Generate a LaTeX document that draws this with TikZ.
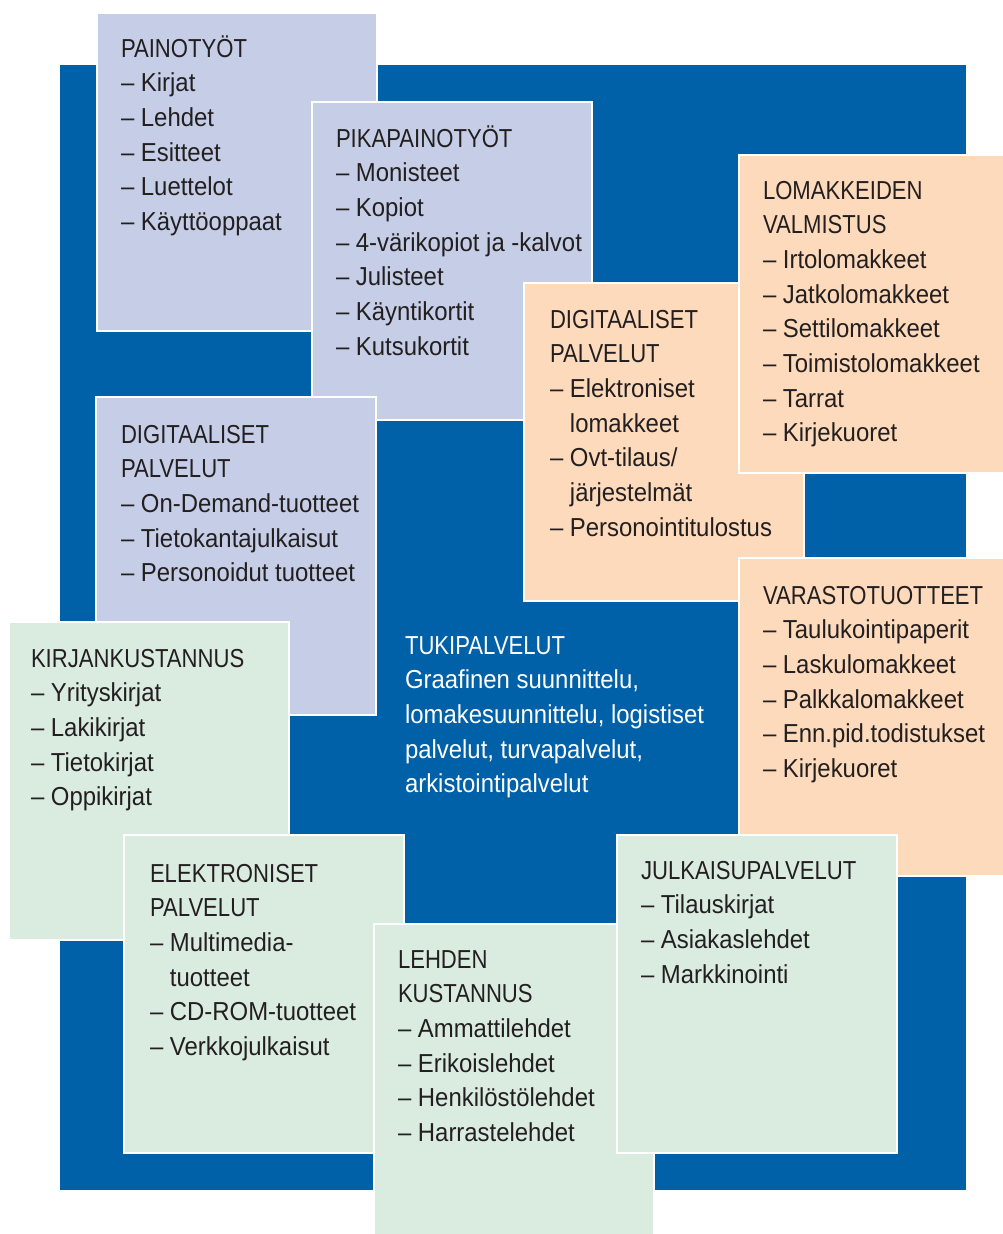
\documentclass[tikz,border=0pt]{standalone}
\usepackage{fontspec}
\setmainfont{Liberation Sans}[FakeStretch=0.92]
\newfontfamily\otsikko{Liberation Sans}[FakeStretch=0.85]
\usetikzlibrary{positioning}
\definecolor{tausta}{HTML}{0060A8}
\definecolor{liila}{HTML}{C5CEE6}
\definecolor{persikka}{HTML}{FDDABB}
\definecolor{minttu}{HTML}{DAECE0}
\definecolor{teksti}{HTML}{231F20}
\tikzset{
  every node/.style={inner sep=0pt, outer sep=0pt},
  box/.style={draw=white, line width=2pt, minimum width=280pt, minimum height=318pt, anchor=north west},
  lista/.style={text=teksti, font=\fontsize{26}{34.7}\selectfont, anchor=base west}
}
\newcommand{\sis}{\hphantom{– }}
\newcommand{\ots}[1]{{\otsikko #1}}

\begin{document}
\begin{tikzpicture}[x=1pt, y=-1pt]
  \useasboundingbox (0,0) rectangle (1003,1234);
  \clip (0,0) rectangle (1003,1234);
  % Tausta
  \node (tausta) [fill=tausta, minimum width=906pt, minimum height=1125pt, anchor=north west] at (60,65) {};

  % Painotyot
  \node (painotyot) [box, fill=liila] at (97,13) {};
  \node (painotyot lista) [below right=44pt and 24pt of painotyot.north west, lista] {
    \begin{tabular}[t]{@{}l@{}}
      \ots{PAINOTYÖT}\\ – Kirjat\\ – Lehdet\\ – Esitteet\\ – Luettelot\\ – Käyttöoppaat
    \end{tabular}
  };
  \node (pikapaino) [box, fill=liila] at (312,102) {};
  \node (pikapaino lista) [below right=45pt and 24pt of pikapaino.north west, lista] {
    \begin{tabular}[t]{@{}l@{}}
      \ots{PIKAPAINOTYÖT}\\ – Monisteet\\ – Kopiot\\ – 4-värikopiot ja -kalvot\\ – Julisteet\\ – Käyntikortit\\ – Kutsukortit
    \end{tabular}
  };
  \node (digi) [box, fill=liila] at (96,397) {};
  \node (digi lista) [below right=46pt and 25pt of digi.north west, lista] {
    \begin{tabular}[t]{@{}l@{}}
      \ots{DIGITAALISET}\\ \ots{PALVELUT}\\ – On-Demand-tuotteet\\ – Tietokantajulkaisut\\ – Personoidut tuotteet
    \end{tabular}
  };

  % Lomakkeet
  \node (digipalv) [box, fill=persikka] at (524,283) {};
  \node (digipalv lista) [below right=45pt and 26pt of digipalv.north west, lista] {
    \begin{tabular}[t]{@{}l@{}}
      \ots{DIGITAALISET}\\ \ots{PALVELUT}\\ – Elektroniset\\ \sis lomakkeet\\ – Ovt-tilaus/\\ \sis järjestelmät\\ – Personointitulostus
    \end{tabular}
  };
  \node (lomakkeet) [box, fill=persikka] at (739,155) {};
  \node (lomakkeet lista) [below right=44pt and 24pt of lomakkeet.north west, lista] {
    \begin{tabular}[t]{@{}l@{}}
      \ots{LOMAKKEIDEN}\\ \ots{VALMISTUS}\\ – Irtolomakkeet\\ – Jatkolomakkeet\\ – Settilomakkeet\\ – Toimistolomakkeet\\ – Tarrat\\ – Kirjekuoret
    \end{tabular}
  };
  \node (varasto) [box, fill=persikka] at (739,558) {};
  \node (varasto lista) [below right=46pt and 24pt of varasto.north west, lista] {
    \begin{tabular}[t]{@{}l@{}}
      \ots{VARASTOTUOTTEET}\\ – Taulukointipaperit\\ – Laskulomakkeet\\ – Palkkalomakkeet\\ – Enn.pid.todistukset\\ – Kirjekuoret
    \end{tabular}
  };

  % Kustannus
  \node (kirjan) [box, fill=minttu] at (9,622) {};
  \node (kirjan lista) [below right=45pt and 22pt of kirjan.north west, lista] {
    \begin{tabular}[t]{@{}l@{}}
      \ots{KIRJANKUSTANNUS}\\ – Yrityskirjat\\ – Lakikirjat\\ – Tietokirjat\\ – Oppikirjat
    \end{tabular}
  };
  \node (elektr) [box, fill=minttu] at (124,835) {};
  \node (elektr lista) [below right=47pt and 26pt of elektr.north west, lista] {
    \begin{tabular}[t]{@{}l@{}}
      \ots{ELEKTRONISET}\\ \ots{PALVELUT}\\ – Multimedia-\\ \sis tuotteet\\ – CD-ROM-tuotteet\\ – Verkkojulkaisut
    \end{tabular}
  };
  \node (lehden) [box, fill=minttu] at (374,924) {};
  \node (lehden lista) [below right=44pt and 24pt of lehden.north west, lista] {
    \begin{tabular}[t]{@{}l@{}}
      \ots{LEHDEN}\\ \ots{KUSTANNUS}\\ – Ammattilehdet\\ – Erikoislehdet\\ – Henkilöstölehdet\\ – Harrastelehdet
    \end{tabular}
  };
  \node (julkaisu) [box, fill=minttu] at (617,835) {};
  \node (julkaisu lista) [below right=44pt and 24pt of julkaisu.north west, lista] {
    \begin{tabular}[t]{@{}l@{}}
      \ots{JULKAISUPALVELUT}\\ – Tilauskirjat\\ – Asiakaslehdet\\ – Markkinointi
    \end{tabular}
  };

  % Tukipalvelut
  \node (tuki) [lista, text=white] at (405,654) {
    \begin{tabular}[t]{@{}l@{}}
      \ots{TUKIPALVELUT}\\ Graafinen suunnittelu,\\ lomakesuunnittelu, logistiset\\ palvelut, turvapalvelut,\\ arkistointipalvelut
    \end{tabular}
  };
\end{tikzpicture}
\end{document}
